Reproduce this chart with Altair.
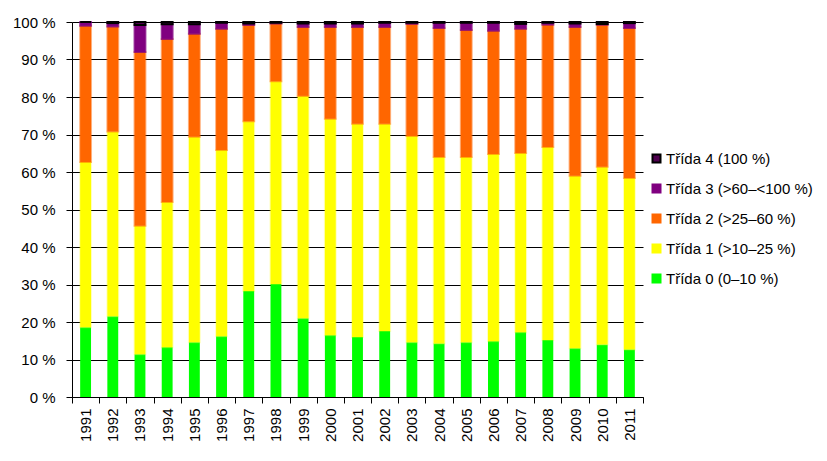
import altair as alt
import pandas as pd

years = [str(y) for y in range(1991, 2012)]
classes = ["Třída 4 (100 %)", "Třída 3 (>60–<100 %)", "Třída 2 (>25–60 %)",
           "Třída 1 (>10–25 %)", "Třída 0 (0–10 %)"]
colors = ["#4f004f", "#800080", "#ff6600", "#ffff00", "#00ff00"]

c0 = [18.6, 21.5, 11.4, 13.3, 14.6, 16.2, 28.2, 30.1, 21.0, 16.5, 16.0,
      17.6, 14.6, 14.3, 14.6, 14.9, 17.3, 15.2, 13.0, 14.0, 12.7]
c1 = [44.1, 49.2, 34.3, 38.7, 54.8, 49.7, 45.2, 54.0, 59.3, 57.7, 56.9,
      55.3, 55.0, 49.7, 49.4, 49.9, 47.8, 51.5, 46.0, 47.4, 45.7]
c2 = [36.3, 28.0, 46.3, 43.5, 27.5, 32.3, 25.6, 15.4, 18.4, 24.5, 25.8,
      25.8, 29.9, 34.4, 33.9, 32.9, 33.1, 32.6, 39.7, 37.9, 40.0]
c3 = [1.0, 0.9, 7.2, 3.9, 2.5, 1.6, 0.4, 0.2, 0.9, 0.9, 0.9,
      1.1, 0.3, 1.4, 1.9, 2.1, 1.3, 0.5, 0.9, 0.2, 1.3]
c4 = [0.0, 0.3, 0.8, 0.6, 0.6, 0.2, 0.4, 0.2, 0.4, 0.4, 0.4,
      0.2, 0.2, 0.2, 0.2, 0.2, 0.5, 0.2, 0.4, 0.5, 0.3]

series = [c0, c1, c2, c3, c4]
labels_bottom_up = classes[::-1]

rows = []
for k, vals in enumerate(series):
    for y, v in zip(years, vals):
        rows.append({"rok": y, "trida": labels_bottom_up[k], "poradi": k, "podil": v})
df = pd.DataFrame(rows)

chart = alt.Chart(df).mark_bar(width=alt.RelativeBandSize(0.4), strokeWidth=2).encode(
    x=alt.X("rok:N", title=None,
            scale=alt.Scale(paddingInner=0, paddingOuter=0),
            axis=alt.Axis(labelAngle=270, tickBand="extent", labelFont="Liberation Sans",
                          labelFontSize=15, labelColor="black", domainColor="black",
                          tickColor="black", tickSize=6, labelPadding=5, grid=False)),
    y=alt.Y("podil:Q", stack="normalize", title=None,
            scale=alt.Scale(domain=[0, 1]),
            axis=alt.Axis(values=[i / 10 for i in range(11)],
                          labelExpr="format(datum.value*100,'d') + ' %'",
                          labelFont="Liberation Sans", labelFontSize=15, labelColor="black",
                          domainColor="black", tickColor="black", tickSize=6, labelPadding=11,
                          gridColor="black", gridOpacity=1, gridWidth=1)),
    fill=alt.Fill("trida:N", scale=alt.Scale(domain=classes, range=colors),
                  legend=alt.Legend(title=None)),
    stroke=alt.Stroke("trida:N", scale=alt.Scale(domain=classes,
                      range=["black"] + colors[1:]), legend=alt.Legend(title=None)),
    strokeOpacity=alt.StrokeOpacity("trida:N", scale=alt.Scale(domain=classes,
                      range=[1, 0, 0, 0, 0]), legend=alt.Legend(title=None)),
    order=alt.Order("poradi:Q", sort="ascending"),
).properties(
    width=571, height=375,
    autosize=alt.AutoSizeParams(type="none"),
    padding={"left": 64, "top": 14, "right": 176, "bottom": 56},
).configure_view(stroke=None).configure_legend(
    orient="none", legendX=577, legendY=129, padding=0,
    symbolType="square", symbolSize=64, symbolStrokeWidth=2,
    labelFont="Liberation Sans", labelFontSize=15, labelColor="black",
    rowPadding=13, labelOffset=2, labelLimit=300,
)

chart.save("out.html", embed_options={"renderer": "svg", "actions": False})
